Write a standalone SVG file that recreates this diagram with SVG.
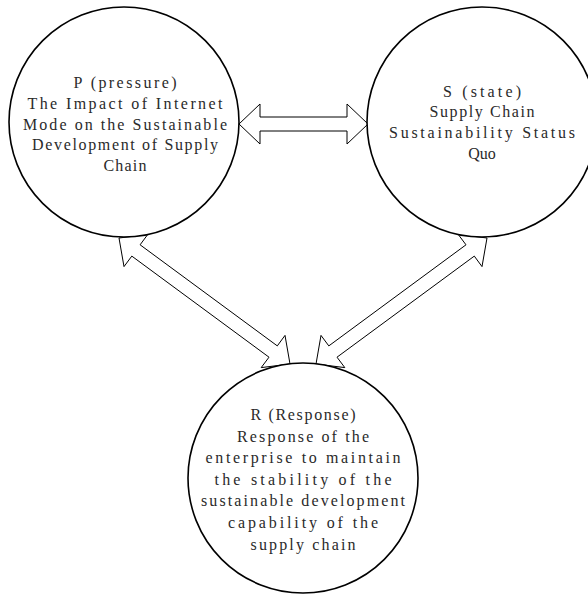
<svg xmlns="http://www.w3.org/2000/svg" width="588" height="594" viewBox="0 0 588 594">
<style>
.arrow{fill:#fff;stroke:#000;stroke-width:1;stroke-linejoin:miter}
.node circle{fill:#fff;stroke:#000;stroke-width:1.6}
.node text{font-family:"Liberation Serif",serif;font-size:16px;fill:#2a2a2a;text-anchor:middle}
</style>
<rect width="588" height="594" fill="#fff"/>
<g id="connectors">
<polygon class="arrow" points="239,124 260,104 260,117 347,117 347,104 368,124 347,144 347,131 260,131 260,144"/>
<polygon class="arrow" points="119,238 124,266.6 131.8,256.1 269,357.2 261.2,367.6 290,364 285,335.4 277.3,345.9 140.1,244.8 147.8,234.4"/>
<polygon class="arrow" points="316,364 344.8,367.6 337,357.2 474.3,256.1 482,266.6 487,238 458.2,234.4 466,244.8 328.8,345.9 321,335.4"/>
</g>
<g id="node-P" class="node">
<circle cx="124" cy="122" r="115"/>
<text x="125" y="88" textLength="103" lengthAdjust="spacing">P (pressure)</text>
<text x="125" y="108.8" textLength="195" lengthAdjust="spacing">The Impact of Internet</text>
<text x="125" y="129.6" textLength="204" lengthAdjust="spacing">Mode on the Sustainable</text>
<text x="125" y="150.4" textLength="186" lengthAdjust="spacing">Development of Supply</text>
<text x="125" y="171.2" textLength="43" lengthAdjust="spacing">Chain</text>
</g>
<g id="node-S" class="node">
<circle cx="482" cy="122" r="115"/>
<text x="482" y="96.5" textLength="78" lengthAdjust="spacing">S (state)</text>
<text x="482" y="117.3" textLength="105" lengthAdjust="spacing">Supply Chain</text>
<text x="482" y="138.1" textLength="186" lengthAdjust="spacing">Sustainability Status</text>
<text x="482" y="158.9">Quo</text>
</g>
<g id="node-R" class="node">
<circle cx="303" cy="478" r="115"/>
<text x="303" y="420" textLength="105" lengthAdjust="spacing">R (Response)</text>
<text x="303" y="441.6" textLength="132" lengthAdjust="spacing">Response of the</text>
<text x="303" y="463.2" textLength="195" lengthAdjust="spacing">enterprise to maintain</text>
<text x="303" y="484.8" textLength="177" lengthAdjust="spacing">the stability of the</text>
<text x="303" y="506.4" textLength="204" lengthAdjust="spacing">sustainable development</text>
<text x="303" y="528" textLength="150" lengthAdjust="spacing">capability of the</text>
<text x="303" y="549.6" textLength="105" lengthAdjust="spacing">supply chain</text>
</g>
</svg>
